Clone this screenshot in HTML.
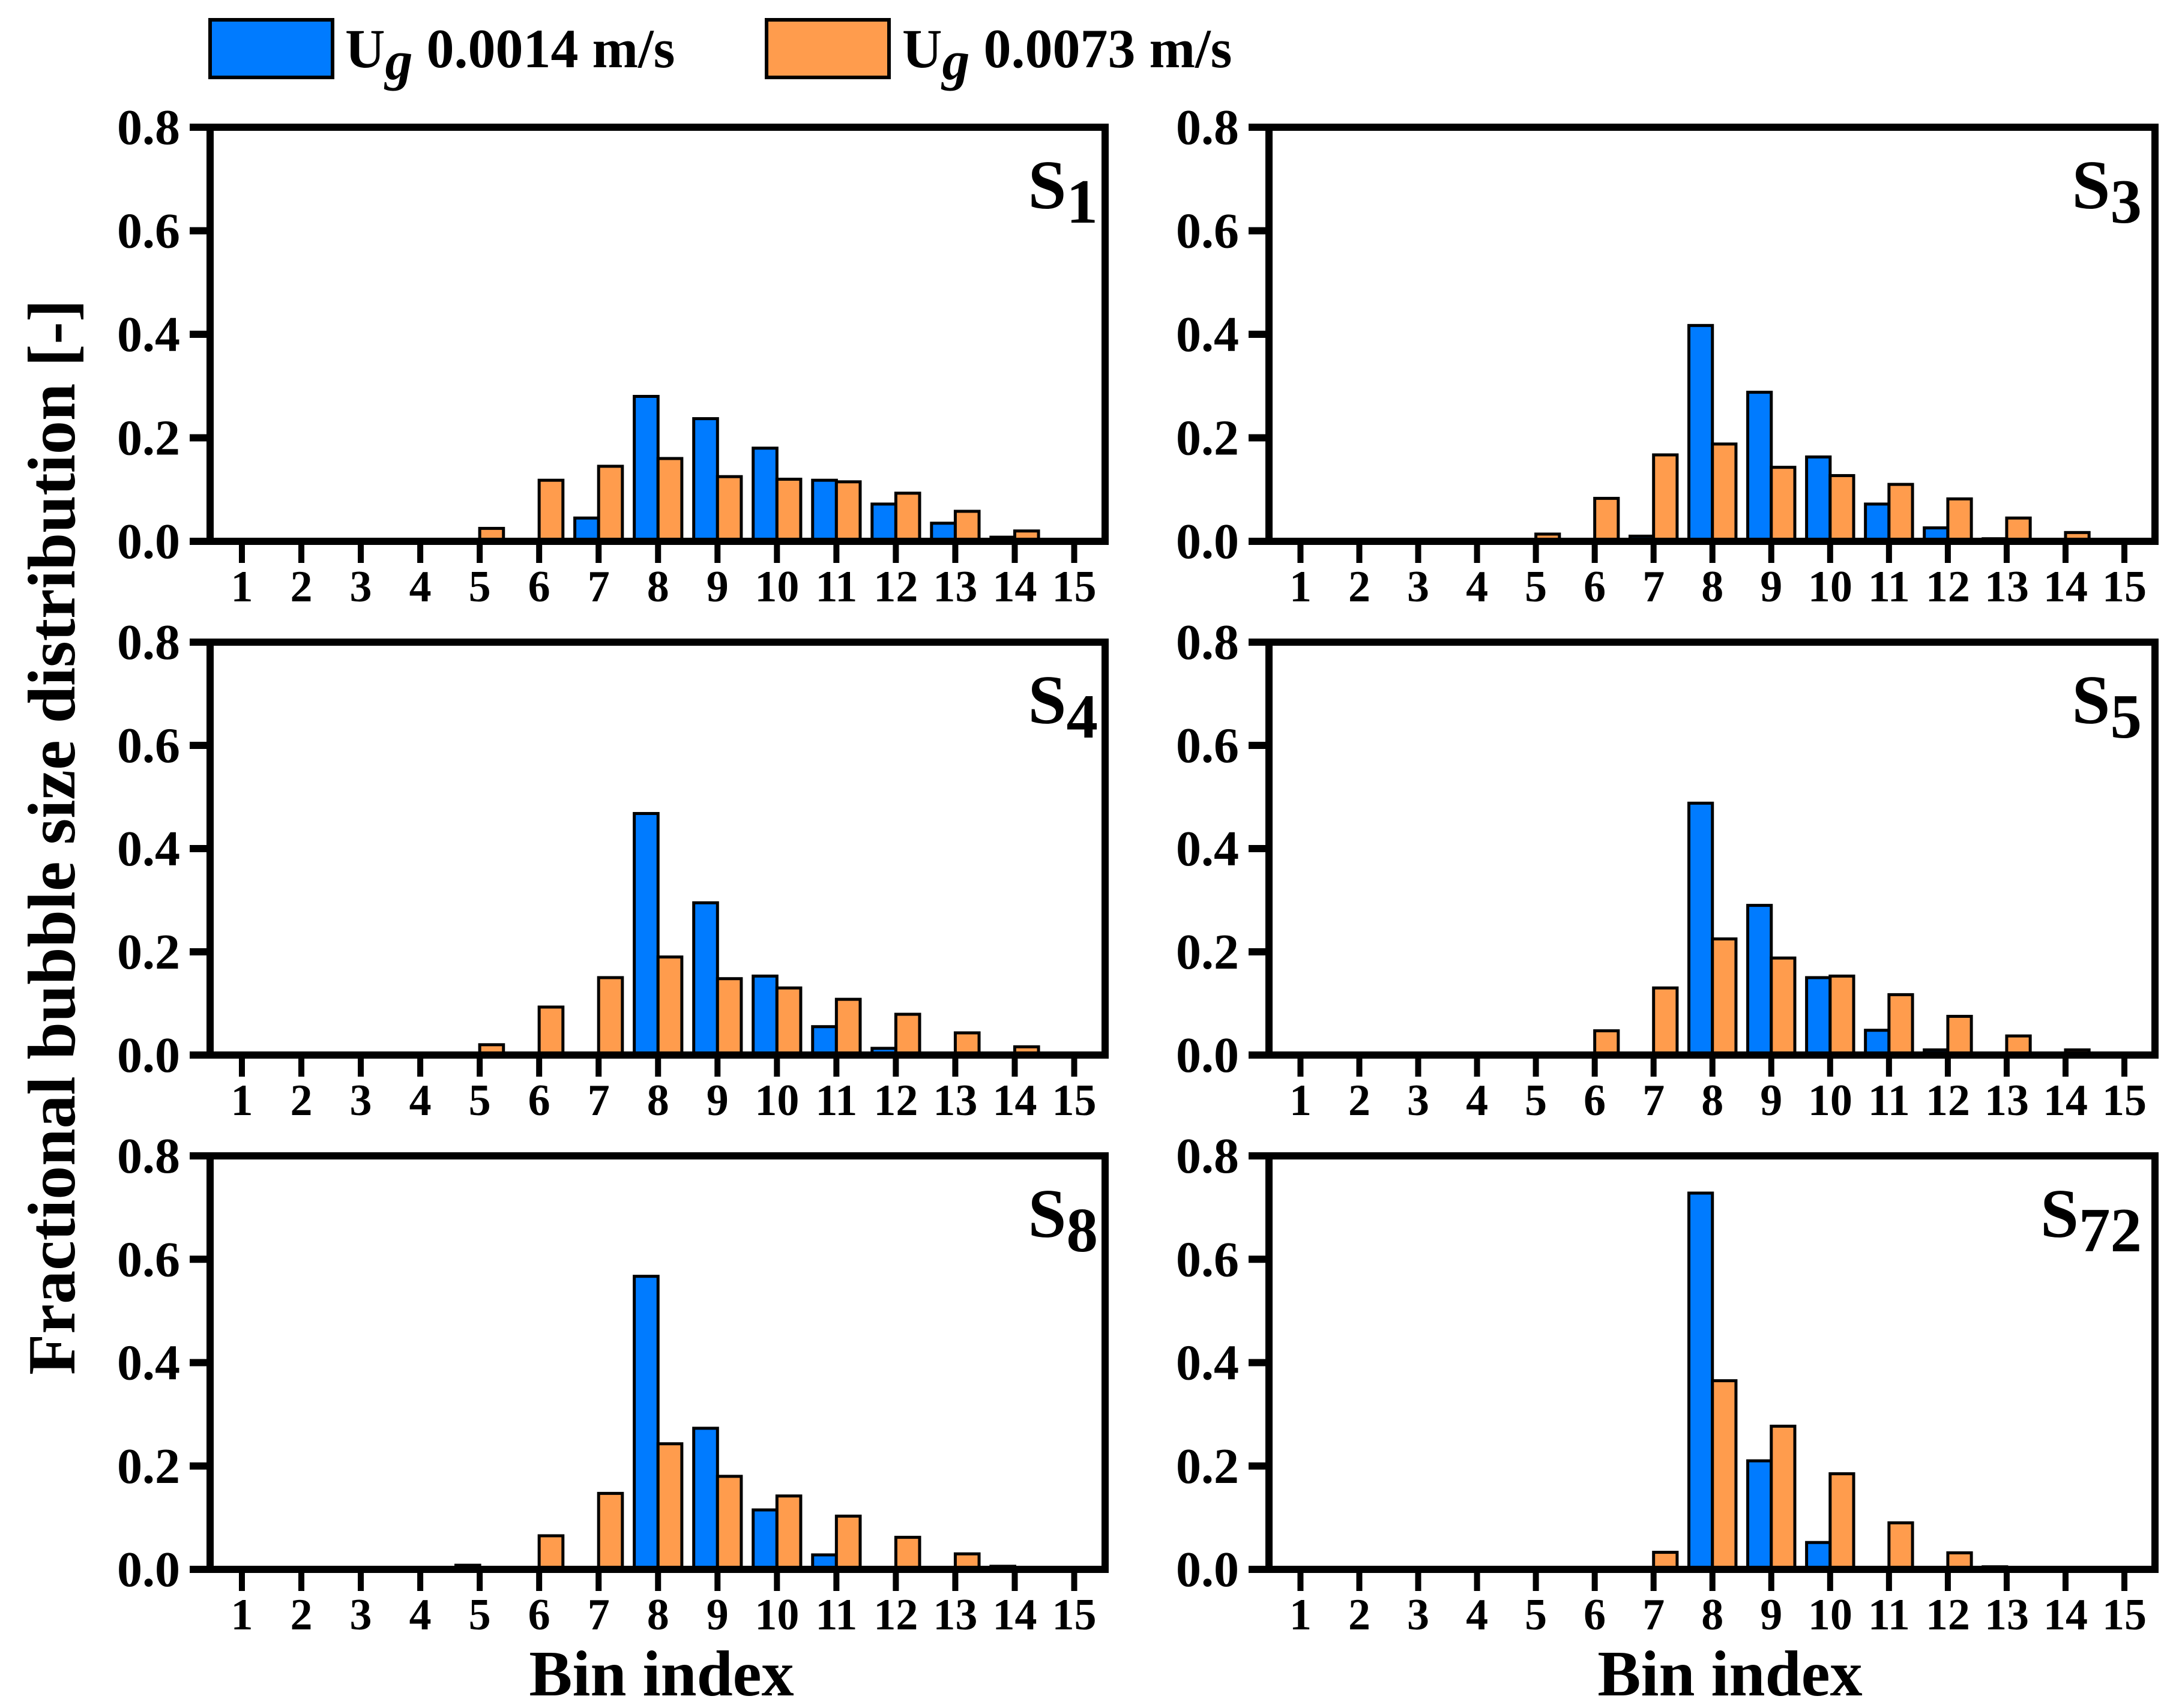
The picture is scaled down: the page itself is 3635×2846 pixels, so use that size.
<!DOCTYPE html>
<html><head><meta charset="utf-8"><style>
html,body{margin:0;padding:0;background:#fff}
svg{display:block}
text{font-family:"Liberation Serif",serif;font-weight:bold;fill:#000}
</style></head><body>
<svg id="chart" width="3635" height="2846" viewBox="0 0 3635 2846" xmlns="http://www.w3.org/2000/svg">
<g>
<rect x="350" y="33" width="204" height="96" fill="#007BFF" stroke="#000" stroke-width="6"/>
<text x="575" y="112" font-size="92">U<tspan font-style="italic" dy="20">g</tspan><tspan dy="-20"> 0.0014 m/s</tspan></text>
<rect x="1277" y="33" width="204" height="96" fill="#FF9C4D" stroke="#000" stroke-width="6"/>
<text x="1503" y="112" font-size="92">U<tspan font-style="italic" dy="20">g</tspan><tspan dy="-20"> 0.0073 m/s</tspan></text>
</g>
<text transform="translate(124,1395) rotate(-90)" text-anchor="middle" font-size="112">Fractional bubble size distribution [-]</text>
<text x="1102" y="2825" text-anchor="middle" font-size="108">Bin index</text>
<text x="2882" y="2825" text-anchor="middle" font-size="108">Bin index</text>
</svg>
<script>
const bins = [1,2,3,4,5,6,7,8,9,10,11,12,13,14,15];
const yTicks = [0, 0.2, 0.4, 0.6, 0.8];
const yTickLabels = ["0.0","0.2","0.4","0.6","0.8"];
const panelNames = ["1","3","4","5","8","72"];
const s1Low  = [0,0,0,0,0,0.003,0.045,0.28,0.237,0.18,0.118,0.072,0.035,0.008,0];
const s1High = [0,0,0,0,0.025,0.118,0.145,0.16,0.125,0.12,0.115,0.093,0.058,0.02,0];
const s3Low  = [0,0,0,0,0,0,0.01,0.417,0.288,0.163,0.072,0.026,0.005,0,0];
const s3High = [0,0,0,0,0.014,0.083,0.167,0.188,0.143,0.127,0.11,0.082,0.045,0.017,0];
const s4Low  = [0,0,0,0,0,0,0.003,0.468,0.295,0.153,0.055,0.013,0,0,0.002];
const s4High = [0,0,0,0,0.02,0.093,0.15,0.19,0.148,0.13,0.108,0.079,0.043,0.016,0];
const s5Low  = [0,0,0,0,0.002,0,0,0.488,0.29,0.15,0.048,0.01,0,0,0];
const s5High = [0,0,0,0,0.002,0.047,0.13,0.225,0.188,0.153,0.117,0.075,0.037,0.01,0];
const s8Low  = [0,0,0,0,0.008,0,0,0.567,0.273,0.115,0.028,0.003,0,0.006,0];
const s8High = [0,0,0,0,0.003,0.065,0.147,0.243,0.18,0.142,0.103,0.062,0.03,0.003,0];
const s72Low = [0,0,0,0,0,0,0,0.728,0.21,0.052,0.003,0,0.005,0,0];
const s72High= [0,0,0,0,0,0,0.033,0.365,0.277,0.185,0.09,0.032,0,0,0];
const lowSeries = [s1Low,s3Low,s4Low,s5Low,s8Low,s72Low];
const highSeries = [s1High,s3High,s4High,s5High,s8High,s72High];

const NS = "http://www.w3.org/2000/svg";
const svg = document.getElementById('chart');
function mk(tag, attrs, parent){const e=document.createElementNS(NS,tag);for(const k in attrs)e.setAttribute(k,attrs[k]);parent.appendChild(e);return e;}
const cols=[[350,1841],[2114,3590]];
const rows=[[212,902],[1070,1758],[1926,2615]];
const xmin=0.465, xmax=15.52, ymax=0.8;
for(let p=0;p<6;p++){
  const [L,R]=cols[p%2], [T,B]=rows[Math.floor(p/2)];
  const xs=v=>L+(v-xmin)/(xmax-xmin)*(R-L);
  const ys=v=>B-v/ymax*(B-T);
  const g=mk('g',{},svg);
  
  
  const bw=0.4;
  bins.forEach((b,i)=>{
    [[lowSeries[p][i],b-bw,'#007BFF','low'],[highSeries[p][i],b,'#FF9C4D','high']].forEach(([v,x0,c,n])=>{
      if(v<=0)return;
      const r=mk('rect',{x:xs(x0),y:ys(v),width:xs(x0+bw)-xs(x0),height:B-ys(v),fill:c,stroke:'#000','stroke-width':5},g);
      
      
    });
  });
  const frame=mk('rect',{x:L,y:T,width:R-L,height:B-T,fill:'none',stroke:'#000','stroke-width':12},g);
  
  
  yTicks.forEach((v,i)=>{
    const tk=mk('line',{x1:L-34,x2:L,y1:ys(v),y2:ys(v),stroke:'#000','stroke-width':12},g);
    
    
    const t=mk('text',{x:L-50,y:ys(v)+28,'text-anchor':'end','font-size':84},g);
    
    
    t.textContent=yTickLabels[i];
  });
  bins.forEach(b=>{
    const tk=mk('line',{x1:xs(b),x2:xs(b),y1:B,y2:B+36,stroke:'#000','stroke-width':10},g);
    
    
    const t=mk('text',{x:xs(b),y:B+100,'text-anchor':'middle','font-size':74},g);
    
    
    t.textContent=b;
  });
  const lab=mk('text',{x:R-(p%2?22:12),y:T+135,'text-anchor':'end','font-size':115},g);
  
  
  lab.innerHTML='S<tspan font-size="105" dy="24">'+panelNames[p]+'</tspan>';
}
</script>
</body></html>
